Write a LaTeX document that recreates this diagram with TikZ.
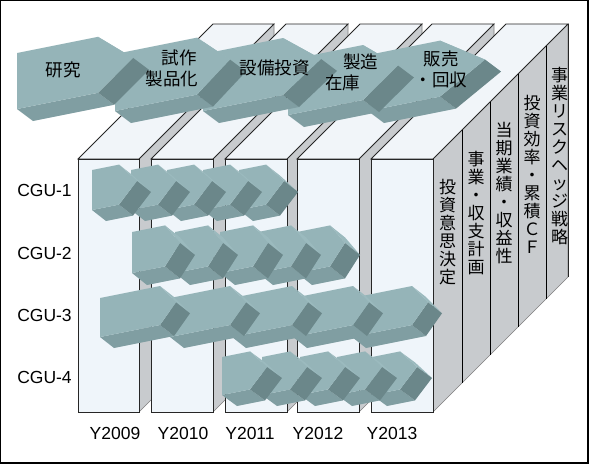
\documentclass[tikz,border=0pt]{standalone}
\usepackage{fontspec}
\setmainfont{Liberation Sans}
\newfontfamily\cjk{Noto Sans CJK JP}
\usetikzlibrary{calc}
\definecolor{colfront}{HTML}{EFF5FA}
\definecolor{coltop}{HTML}{F1F5F9}
\definecolor{colside}{HTML}{C8CBCE}
\definecolor{chfront}{HTML}{95B4B8}
\definecolor{chup}{HTML}{9BBABE}
\definecolor{chdark}{HTML}{6B878A}
\definecolor{chbot}{HTML}{809EA2}
\tikzset{
  edge/.style={draw=black!85, line width=0.8pt},
  vt/.style={font=\cjk\fontsize{17}{18}\selectfont, align=center, inner sep=0pt},
  lbl/.style={font=\cjk\fontsize{17.5}{21}\selectfont, inner sep=0pt},
  axis/.style={font=\fontsize{17.5}{20}\selectfont, inner sep=0pt}
}
% chevron: ax ay body tip height vx vy
\newcommand\chev[7]{%
  \coordinate (cA) at (#1,#2);
  \coordinate (cB) at ({#1+#3},{#2-0.2*#3});
  \coordinate (cC) at ({#1+#3+#4},{#2-0.2*(#3+#4)+#5/2});
  \coordinate (cD) at ({#1+#3},{#2-0.2*#3+#5});
  \coordinate (cE) at (#1,{#2+#5});
  \fill[chup] (cB) -- (cC) -- ($(cC)+(#6,#7)$) -- ($(cB)+(#6,#7)$) -- cycle;
  \fill[chbot] (cE) -- (cD) -- ($(cD)+(#6,#7)$) -- ($(cE)+(#6,#7)$) -- cycle;
  \fill[chdark] (cD) -- (cC) -- ($(cC)+(#6,#7)$) -- ($(cD)+(#6,#7)$) -- cycle;
  \fill[chfront] (cA) -- (cB) -- (cC) -- (cD) -- (cE) -- cycle;
}
% slab: x0 x1
\newcommand\slab[2]{%
  \filldraw[fill=colside, draw=black!50, line width=0.6pt] (#2,159) -- (#2,412) -- ({#2+135},277) -- ({#2+135},24) -- cycle;
  \filldraw[fill=coltop, edge] (#1,159) -- (#2,159) -- ({#2+135},24) -- ({#1+135},24) -- cycle;
  \filldraw[fill=colfront, edge] (#1,159) rectangle (#2,412);
}
\begin{document}
\begin{tikzpicture}[x=1pt,y=-1pt]
\path[use as bounding box] (0,0) rectangle (590,464);
\fill[white] (0,0) rectangle (590,464);
% columns
\slab{78}{139}
\slab{151}{213}
\slab{225}{287}
\slab{297}{359}
\slab{371}{433}
\draw[black!85, line width=0.8pt] (568,24) -- (568,277);
\foreach \x in {462,490,518,546}
  \draw[black, line width=0.8pt] (\x,{159-(\x-433)}) -- (\x,{412-(\x-433)});
\node[vt] (v1) at (447.5,232.5) {投\\資\\意\\思\\決\\定};
\node[vt] (v2) at (476,213.5) {事\\業\\・\\収\\支\\計\\画};
\node[vt] (v3) at (504,193.5) {当\\期\\業\\績\\・\\収\\益\\性};
\node[vt] (v4) at (532,174) {投\\資\\効\\率\\・\\累\\積\\Ｃ\\Ｆ};
\begin{scope}
  \clip (546,46) -- (568,24) -- (568,277) -- (546,299) -- cycle;
  \node[vt] (v5) at (559.5,156) {事\\業\\リ\\ス\\ク\\ヘ\\ッ\\ジ\\戦\\略};
\end{scope}
% top row chevrons (right to left)
\chev{368}{55}{72}{45}{56}{16}{12}
\chev{288}{60}{75}{35}{55}{16}{12}
\chev{203}{54}{80}{38}{57}{16}{12}
\chev{115}{54}{82}{33}{57}{16}{12}
\chev{17}{53}{81}{35}{56}{16}{12}
\node[lbl] (t1) at (63,70) {研究};
\node[lbl, align=left] (t2) at (172,68) {\hspace*{16pt}試作\\製品化};
\node[lbl] (t3) at (274.5,68) {設備投資};
\node[lbl, align=left] (t4) at (351.5,72) {\hspace*{18pt}製造\\在庫};
\node[lbl, align=center] (t5) at (441,69) {販売\\・回収};
% CGU-1
\foreach \ax in {239,203,167,131,92} {\chev{\ax}{170}{27}{18}{40}{14}{11}}
% CGU-2
\foreach \ax in {297,258,220,175,132} {\chev{\ax}{232}{33}{15}{41}{15}{12}}
% CGU-3
\foreach \ax in {352,293,232,170,100} {\chev{\ax}{298}{60}{16}{39}{14}{11}}
% CGU-4
\foreach \ax in {372,337,300,262,222} {\chev{\ax}{357}{28}{17}{38}{15}{11}}
% labels
\node[axis] (c1) at (44.5,190) {CGU-1};
\node[axis] (c2) at (44.5,253) {CGU-2};
\node[axis] (c3) at (44.5,315) {CGU-3};
\node[axis] (c4) at (44.5,377) {CGU-4};
\node[axis] (y1) at (115,433) {Y2009};
\node[axis] (y2) at (183,433) {Y2010};
\node[axis] (y3) at (250,433) {Y2011};
\node[axis] (y4) at (318,433) {Y2012};
\node[axis] (y5) at (392,433) {Y2013};
\draw[black, line width=1.4pt] (0.7,0.7) rectangle (588,462.8);
\end{tikzpicture}
\end{document}
